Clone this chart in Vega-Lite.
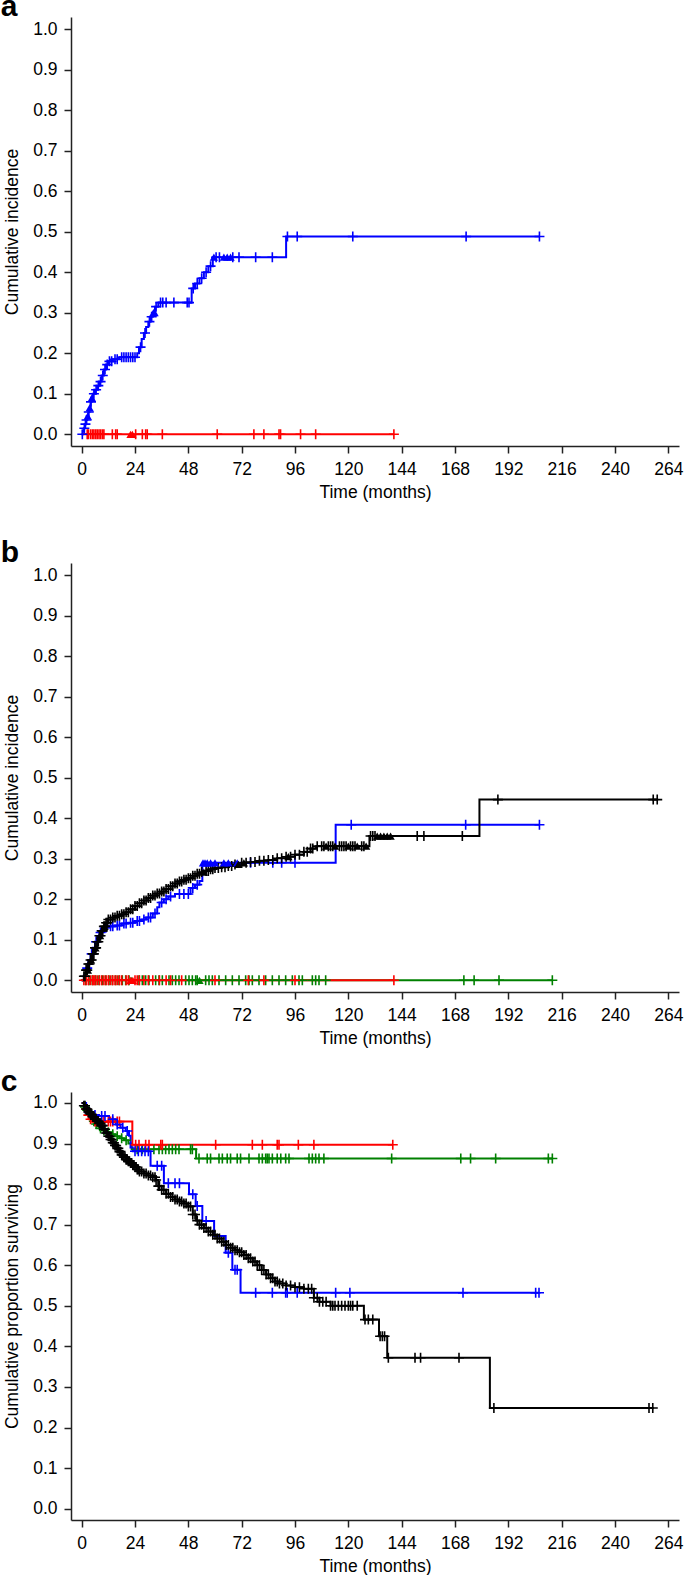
{
  "$schema": "https://vega.github.io/schema/vega-lite/v6.json",
  "padding": {"left": 0, "top": -8, "right": 5, "bottom": 0},
  "background": "white",
  "config": {
    "view": {"stroke": null},
    "font": "Liberation Sans",
    "axis": {
      "grid": false,
      "domainColor": "#222222",
      "domainWidth": 1.5,
      "tickColor": "#222222",
      "tickWidth": 1.5,
      "tickSize": 7,
      "labelFont": "Liberation Sans",
      "labelFontSize": 17.5,
      "labelColor": "#000000",
      "labelPadding": 7,
      "labelFlush": false,
      "labelOverlap": false,
      "titleFont": "Liberation Sans",
      "titleFontSize": 17.5,
      "titleFontWeight": "normal",
      "titleColor": "#000000"
    },
    "title": {
      "font": "Liberation Sans",
      "fontSize": 30,
      "fontWeight": "bold",
      "color": "#000000",
      "anchor": "start",
      "baseline": "alphabetic",
      "offset": 1,
      "dx": -3,
      "dy": 6
    }
  },
  "datasets": {
    "curves": [
      {"p":"a","g":"red","t":0,"v":0},{"p":"a","g":"red","t":140.5,"v":0},
      {"p":"a","g":"blue","t":0,"v":0},{"p":"a","g":"blue","t":0.5,"v":0.008},{"p":"a","g":"blue","t":1,"v":0.015},{"p":"a","g":"blue","t":1.5,"v":0.025},{"p":"a","g":"blue","t":2,"v":0.035},{"p":"a","g":"blue","t":2.5,"v":0.045},{"p":"a","g":"blue","t":3,"v":0.055},{"p":"a","g":"blue","t":3.5,"v":0.065},{"p":"a","g":"blue","t":4,"v":0.08},{"p":"a","g":"blue","t":4.5,"v":0.09},{"p":"a","g":"blue","t":5,"v":0.1},{"p":"a","g":"blue","t":6,"v":0.11},{"p":"a","g":"blue","t":7,"v":0.12},{"p":"a","g":"blue","t":8,"v":0.13},{"p":"a","g":"blue","t":9,"v":0.145},{"p":"a","g":"blue","t":10,"v":0.16},{"p":"a","g":"blue","t":11,"v":0.172},{"p":"a","g":"blue","t":12,"v":0.18},{"p":"a","g":"blue","t":14,"v":0.185},{"p":"a","g":"blue","t":17,"v":0.19},{"p":"a","g":"blue","t":25,"v":0.2},{"p":"a","g":"blue","t":25.8,"v":0.215},{"p":"a","g":"blue","t":27,"v":0.235},{"p":"a","g":"blue","t":28,"v":0.25},{"p":"a","g":"blue","t":29,"v":0.265},{"p":"a","g":"blue","t":30,"v":0.278},{"p":"a","g":"blue","t":31,"v":0.29},{"p":"a","g":"blue","t":32,"v":0.3},{"p":"a","g":"blue","t":33,"v":0.315},{"p":"a","g":"blue","t":34.5,"v":0.325},{"p":"a","g":"blue","t":49.5,"v":0.36},{"p":"a","g":"blue","t":51,"v":0.372},{"p":"a","g":"blue","t":53,"v":0.385},{"p":"a","g":"blue","t":55,"v":0.4},{"p":"a","g":"blue","t":57,"v":0.415},{"p":"a","g":"blue","t":59,"v":0.437},{"p":"a","g":"blue","t":92,"v":0.488},{"p":"a","g":"blue","t":206,"v":0.488},

      {"p":"b","g":"green","t":0,"v":0},{"p":"b","g":"green","t":211.8,"v":0},
      {"p":"b","g":"red","t":0,"v":0},{"p":"b","g":"red","t":140.5,"v":0},
      {"p":"b","g":"blue","t":0,"v":0},{"p":"b","g":"blue","t":1,"v":0.012},{"p":"b","g":"blue","t":2,"v":0.03},{"p":"b","g":"blue","t":3,"v":0.05},{"p":"b","g":"blue","t":4,"v":0.065},{"p":"b","g":"blue","t":5,"v":0.08},{"p":"b","g":"blue","t":6,"v":0.095},{"p":"b","g":"blue","t":7,"v":0.108},{"p":"b","g":"blue","t":8,"v":0.118},{"p":"b","g":"blue","t":9,"v":0.126},{"p":"b","g":"blue","t":10,"v":0.13},{"p":"b","g":"blue","t":12,"v":0.133},{"p":"b","g":"blue","t":15,"v":0.135},{"p":"b","g":"blue","t":18,"v":0.14},{"p":"b","g":"blue","t":21,"v":0.142},{"p":"b","g":"blue","t":24,"v":0.146},{"p":"b","g":"blue","t":27,"v":0.15},{"p":"b","g":"blue","t":29,"v":0.155},{"p":"b","g":"blue","t":32,"v":0.165},{"p":"b","g":"blue","t":34,"v":0.18},{"p":"b","g":"blue","t":35,"v":0.192},{"p":"b","g":"blue","t":37,"v":0.2},{"p":"b","g":"blue","t":39,"v":0.207},{"p":"b","g":"blue","t":42,"v":0.213},{"p":"b","g":"blue","t":49,"v":0.228},{"p":"b","g":"blue","t":51,"v":0.236},{"p":"b","g":"blue","t":53,"v":0.245},{"p":"b","g":"blue","t":54.3,"v":0.29},{"p":"b","g":"blue","t":114.3,"v":0.384},{"p":"b","g":"blue","t":206,"v":0.384},
      {"p":"b","g":"black","t":0,"v":0},{"p":"b","g":"black","t":1,"v":0.01},{"p":"b","g":"black","t":2,"v":0.025},{"p":"b","g":"black","t":3,"v":0.04},{"p":"b","g":"black","t":4,"v":0.05},{"p":"b","g":"black","t":5,"v":0.065},{"p":"b","g":"black","t":6,"v":0.08},{"p":"b","g":"black","t":7,"v":0.095},{"p":"b","g":"black","t":8,"v":0.11},{"p":"b","g":"black","t":9,"v":0.122},{"p":"b","g":"black","t":10,"v":0.133},{"p":"b","g":"black","t":11,"v":0.142},{"p":"b","g":"black","t":12,"v":0.15},{"p":"b","g":"black","t":14,"v":0.155},{"p":"b","g":"black","t":16,"v":0.159},{"p":"b","g":"black","t":18,"v":0.163},{"p":"b","g":"black","t":20,"v":0.168},{"p":"b","g":"black","t":22,"v":0.175},{"p":"b","g":"black","t":24,"v":0.183},{"p":"b","g":"black","t":26,"v":0.19},{"p":"b","g":"black","t":28,"v":0.197},{"p":"b","g":"black","t":30,"v":0.203},{"p":"b","g":"black","t":32,"v":0.209},{"p":"b","g":"black","t":34,"v":0.214},{"p":"b","g":"black","t":36,"v":0.219},{"p":"b","g":"black","t":38,"v":0.225},{"p":"b","g":"black","t":40,"v":0.232},{"p":"b","g":"black","t":42,"v":0.239},{"p":"b","g":"black","t":44,"v":0.244},{"p":"b","g":"black","t":46,"v":0.248},{"p":"b","g":"black","t":48,"v":0.252},{"p":"b","g":"black","t":50,"v":0.258},{"p":"b","g":"black","t":52,"v":0.263},{"p":"b","g":"black","t":54,"v":0.267},{"p":"b","g":"black","t":56,"v":0.27},{"p":"b","g":"black","t":58,"v":0.274},{"p":"b","g":"black","t":60,"v":0.277},{"p":"b","g":"black","t":63,"v":0.279},{"p":"b","g":"black","t":66,"v":0.282},{"p":"b","g":"black","t":69,"v":0.286},{"p":"b","g":"black","t":72,"v":0.29},{"p":"b","g":"black","t":76,"v":0.292},{"p":"b","g":"black","t":80,"v":0.295},{"p":"b","g":"black","t":84,"v":0.297},{"p":"b","g":"black","t":88,"v":0.301},{"p":"b","g":"black","t":92,"v":0.305},{"p":"b","g":"black","t":96,"v":0.31},{"p":"b","g":"black","t":100,"v":0.317},{"p":"b","g":"black","t":103,"v":0.325},{"p":"b","g":"black","t":105.5,"v":0.331},{"p":"b","g":"black","t":129.5,"v":0.356},{"p":"b","g":"black","t":179,"v":0.446},{"p":"b","g":"black","t":259,"v":0.446},

      {"p":"c","g":"green","t":0,"v":1},{"p":"c","g":"green","t":1,"v":0.99},{"p":"c","g":"green","t":2,"v":0.982},{"p":"c","g":"green","t":3,"v":0.972},{"p":"c","g":"green","t":4,"v":0.963},{"p":"c","g":"green","t":5,"v":0.955},{"p":"c","g":"green","t":6,"v":0.948},{"p":"c","g":"green","t":7,"v":0.942},{"p":"c","g":"green","t":8,"v":0.937},{"p":"c","g":"green","t":9.5,"v":0.932},{"p":"c","g":"green","t":11,"v":0.928},{"p":"c","g":"green","t":13,"v":0.923},{"p":"c","g":"green","t":15,"v":0.918},{"p":"c","g":"green","t":17,"v":0.913},{"p":"c","g":"green","t":19,"v":0.908},{"p":"c","g":"green","t":21,"v":0.9},{"p":"c","g":"green","t":22.5,"v":0.886},{"p":"c","g":"green","t":51.5,"v":0.863},{"p":"c","g":"green","t":211.8,"v":0.863},
      {"p":"c","g":"red","t":0,"v":1},{"p":"c","g":"red","t":1.5,"v":0.985},{"p":"c","g":"red","t":2.5,"v":0.97},{"p":"c","g":"red","t":3.5,"v":0.96},{"p":"c","g":"red","t":5,"v":0.954},{"p":"c","g":"red","t":22.8,"v":0.897},{"p":"c","g":"red","t":140,"v":0.897},
      {"p":"c","g":"blue","t":0,"v":1},{"p":"c","g":"blue","t":2,"v":0.985},{"p":"c","g":"blue","t":3,"v":0.976},{"p":"c","g":"blue","t":5,"v":0.97},{"p":"c","g":"blue","t":7.8,"v":0.968},{"p":"c","g":"blue","t":12.3,"v":0.96},{"p":"c","g":"blue","t":15.3,"v":0.947},{"p":"c","g":"blue","t":17.5,"v":0.939},{"p":"c","g":"blue","t":19.8,"v":0.931},{"p":"c","g":"blue","t":21.3,"v":0.919},{"p":"c","g":"blue","t":22,"v":0.89},{"p":"c","g":"blue","t":23,"v":0.881},{"p":"c","g":"blue","t":31,"v":0.845},{"p":"c","g":"blue","t":37,"v":0.802},{"p":"c","g":"blue","t":48.3,"v":0.775},{"p":"c","g":"blue","t":51.3,"v":0.746},{"p":"c","g":"blue","t":54.3,"v":0.709},{"p":"c","g":"blue","t":59.6,"v":0.672},{"p":"c","g":"blue","t":64.8,"v":0.631},{"p":"c","g":"blue","t":67.8,"v":0.589},{"p":"c","g":"blue","t":71.5,"v":0.532},{"p":"c","g":"blue","t":205.8,"v":0.532},
      {"p":"c","g":"black","t":0,"v":1},{"p":"c","g":"black","t":1,"v":0.993},{"p":"c","g":"black","t":2,"v":0.985},{"p":"c","g":"black","t":3,"v":0.978},{"p":"c","g":"black","t":4,"v":0.972},{"p":"c","g":"black","t":5,"v":0.966},{"p":"c","g":"black","t":6,"v":0.96},{"p":"c","g":"black","t":7,"v":0.955},{"p":"c","g":"black","t":8,"v":0.95},{"p":"c","g":"black","t":9,"v":0.944},{"p":"c","g":"black","t":10,"v":0.935},{"p":"c","g":"black","t":11,"v":0.926},{"p":"c","g":"black","t":12,"v":0.918},{"p":"c","g":"black","t":13,"v":0.91},{"p":"c","g":"black","t":14,"v":0.902},{"p":"c","g":"black","t":15,"v":0.895},{"p":"c","g":"black","t":16,"v":0.888},{"p":"c","g":"black","t":17,"v":0.88},{"p":"c","g":"black","t":18,"v":0.872},{"p":"c","g":"black","t":19,"v":0.866},{"p":"c","g":"black","t":20,"v":0.86},{"p":"c","g":"black","t":21,"v":0.856},{"p":"c","g":"black","t":22,"v":0.852},{"p":"c","g":"black","t":23,"v":0.847},{"p":"c","g":"black","t":24,"v":0.842},{"p":"c","g":"black","t":25,"v":0.836},{"p":"c","g":"black","t":26,"v":0.831},{"p":"c","g":"black","t":28,"v":0.826},{"p":"c","g":"black","t":30,"v":0.821},{"p":"c","g":"black","t":32,"v":0.817},{"p":"c","g":"black","t":33.5,"v":0.81},{"p":"c","g":"black","t":34.5,"v":0.795},{"p":"c","g":"black","t":36,"v":0.786},{"p":"c","g":"black","t":38,"v":0.776},{"p":"c","g":"black","t":40,"v":0.768},{"p":"c","g":"black","t":42,"v":0.762},{"p":"c","g":"black","t":44,"v":0.757},{"p":"c","g":"black","t":46,"v":0.752},{"p":"c","g":"black","t":48,"v":0.745},{"p":"c","g":"black","t":50,"v":0.725},{"p":"c","g":"black","t":51.5,"v":0.71},{"p":"c","g":"black","t":53,"v":0.7},{"p":"c","g":"black","t":55,"v":0.692},{"p":"c","g":"black","t":57,"v":0.683},{"p":"c","g":"black","t":59,"v":0.675},{"p":"c","g":"black","t":61,"v":0.666},{"p":"c","g":"black","t":63,"v":0.658},{"p":"c","g":"black","t":65,"v":0.65},{"p":"c","g":"black","t":67,"v":0.643},{"p":"c","g":"black","t":69,"v":0.637},{"p":"c","g":"black","t":71,"v":0.632},{"p":"c","g":"black","t":73,"v":0.625},{"p":"c","g":"black","t":75,"v":0.617},{"p":"c","g":"black","t":77,"v":0.609},{"p":"c","g":"black","t":79,"v":0.6},{"p":"c","g":"black","t":81,"v":0.588},{"p":"c","g":"black","t":83,"v":0.577},{"p":"c","g":"black","t":85,"v":0.568},{"p":"c","g":"black","t":87,"v":0.56},{"p":"c","g":"black","t":89,"v":0.555},{"p":"c","g":"black","t":92,"v":0.55},{"p":"c","g":"black","t":96,"v":0.546},{"p":"c","g":"black","t":100,"v":0.542},{"p":"c","g":"black","t":104.5,"v":0.52},{"p":"c","g":"black","t":107,"v":0.51},{"p":"c","g":"black","t":112,"v":0.5},{"p":"c","g":"black","t":127,"v":0.466},{"p":"c","g":"black","t":133.8,"v":0.425},{"p":"c","g":"black","t":137.5,"v":0.372},{"p":"c","g":"black","t":183.7,"v":0.248},{"p":"c","g":"black","t":257,"v":0.248}
    ],
    "marks": [
      {"p":"a","g":"red","s":"+","t":2.5,"v":0},{"p":"a","g":"red","s":"+","t":3,"v":0},{"p":"a","g":"red","s":"+","t":4,"v":0},{"p":"a","g":"red","s":"+","t":4.8,"v":0},{"p":"a","g":"red","s":"+","t":5.5,"v":0},{"p":"a","g":"red","s":"+","t":6.3,"v":0},{"p":"a","g":"red","s":"+","t":7,"v":0},{"p":"a","g":"red","s":"+","t":7.8,"v":0},{"p":"a","g":"red","s":"+","t":8.5,"v":0},{"p":"a","g":"red","s":"+","t":9.3,"v":0},{"p":"a","g":"red","s":"+","t":10,"v":0},{"p":"a","g":"red","s":"+","t":13.8,"v":0},{"p":"a","g":"red","s":"+","t":15.3,"v":0},{"p":"a","g":"red","s":"+","t":16,"v":0},{"p":"a","g":"red","s":"+","t":24.3,"v":0},{"p":"a","g":"red","s":"+","t":27.3,"v":0},{"p":"a","g":"red","s":"+","t":28.8,"v":0},{"p":"a","g":"red","s":"+","t":29.5,"v":0},{"p":"a","g":"red","s":"+","t":36.3,"v":0},{"p":"a","g":"red","s":"+","t":61,"v":0},{"p":"a","g":"red","s":"+","t":77.5,"v":0},{"p":"a","g":"red","s":"+","t":82,"v":0},{"p":"a","g":"red","s":"+","t":88.8,"v":0},{"p":"a","g":"red","s":"+","t":89.5,"v":0},{"p":"a","g":"red","s":"+","t":98.5,"v":0},{"p":"a","g":"red","s":"+","t":105.3,"v":0},{"p":"a","g":"red","s":"+","t":140.5,"v":0},
      {"p":"a","g":"red","s":"tri","t":22,"v":0},{"p":"a","g":"red","s":"tri","t":22.8,"v":0},
      {"p":"a","g":"blue","s":"+","t":0.3,"v":0},{"p":"a","g":"blue","s":"+","t":1.2,"v":0.015},{"p":"a","g":"blue","s":"+","t":1.7,"v":0.025},{"p":"a","g":"blue","s":"+","t":2.2,"v":0.035},{"p":"a","g":"blue","s":"+","t":3.2,"v":0.055},{"p":"a","g":"blue","s":"+","t":4.2,"v":0.08},{"p":"a","g":"blue","s":"+","t":5.5,"v":0.1},{"p":"a","g":"blue","s":"+","t":6.5,"v":0.11},{"p":"a","g":"blue","s":"+","t":7.5,"v":0.12},{"p":"a","g":"blue","s":"+","t":8.5,"v":0.13},{"p":"a","g":"blue","s":"+","t":9.5,"v":0.145},{"p":"a","g":"blue","s":"+","t":10.5,"v":0.16},{"p":"a","g":"blue","s":"+","t":11.5,"v":0.172},{"p":"a","g":"blue","s":"+","t":12.5,"v":0.18},{"p":"a","g":"blue","s":"+","t":13.5,"v":0.18},{"p":"a","g":"blue","s":"+","t":15,"v":0.185},{"p":"a","g":"blue","s":"+","t":16,"v":0.185},{"p":"a","g":"blue","s":"+","t":18,"v":0.19},{"p":"a","g":"blue","s":"+","t":19,"v":0.19},{"p":"a","g":"blue","s":"+","t":20,"v":0.19},{"p":"a","g":"blue","s":"+","t":21,"v":0.19},{"p":"a","g":"blue","s":"+","t":22,"v":0.19},{"p":"a","g":"blue","s":"+","t":23,"v":0.19},{"p":"a","g":"blue","s":"+","t":24,"v":0.19},{"p":"a","g":"blue","s":"+","t":26.5,"v":0.215},{"p":"a","g":"blue","s":"+","t":28.5,"v":0.25},{"p":"a","g":"blue","s":"+","t":30.5,"v":0.278},{"p":"a","g":"blue","s":"+","t":31.5,"v":0.29},{"p":"a","g":"blue","s":"+","t":33.5,"v":0.315},{"p":"a","g":"blue","s":"+","t":35.5,"v":0.325},{"p":"a","g":"blue","s":"+","t":36.5,"v":0.325},{"p":"a","g":"blue","s":"+","t":38,"v":0.325},{"p":"a","g":"blue","s":"+","t":41.5,"v":0.325},{"p":"a","g":"blue","s":"+","t":47.5,"v":0.325},{"p":"a","g":"blue","s":"+","t":48.3,"v":0.325},{"p":"a","g":"blue","s":"+","t":50.2,"v":0.36},{"p":"a","g":"blue","s":"+","t":52,"v":0.372},{"p":"a","g":"blue","s":"+","t":54,"v":0.385},{"p":"a","g":"blue","s":"+","t":56,"v":0.4},{"p":"a","g":"blue","s":"+","t":58,"v":0.415},{"p":"a","g":"blue","s":"+","t":60.5,"v":0.437},{"p":"a","g":"blue","s":"+","t":62,"v":0.437},{"p":"a","g":"blue","s":"+","t":68,"v":0.437},{"p":"a","g":"blue","s":"+","t":70.8,"v":0.437},{"p":"a","g":"blue","s":"+","t":78.3,"v":0.437},{"p":"a","g":"blue","s":"+","t":85.8,"v":0.437},{"p":"a","g":"blue","s":"+","t":92.6,"v":0.488},{"p":"a","g":"blue","s":"+","t":97,"v":0.488},{"p":"a","g":"blue","s":"+","t":122,"v":0.488},{"p":"a","g":"blue","s":"+","t":173,"v":0.488},{"p":"a","g":"blue","s":"+","t":206,"v":0.488},
      {"p":"a","g":"blue","s":"tri","t":2.7,"v":0.045},{"p":"a","g":"blue","s":"tri","t":3.6,"v":0.065},{"p":"a","g":"blue","s":"tri","t":4.6,"v":0.09},{"p":"a","g":"blue","s":"tri","t":32.3,"v":0.3},{"p":"a","g":"blue","s":"tri","t":32.8,"v":0.3},{"p":"a","g":"blue","s":"tri","t":59.5,"v":0.437},{"p":"a","g":"blue","s":"tri","t":64,"v":0.437},{"p":"a","g":"blue","s":"tri","t":65.5,"v":0.437},{"p":"a","g":"blue","s":"tri","t":67,"v":0.437},

      {"p":"b","g":"green","s":"+","t":1.8,"v":0},{"p":"b","g":"green","s":"+","t":3.3,"v":0},{"p":"b","g":"green","s":"+","t":4.8,"v":0},{"p":"b","g":"green","s":"+","t":6.3,"v":0},{"p":"b","g":"green","s":"+","t":7.8,"v":0},{"p":"b","g":"green","s":"+","t":9.3,"v":0},{"p":"b","g":"green","s":"+","t":10.8,"v":0},{"p":"b","g":"green","s":"+","t":12.3,"v":0},{"p":"b","g":"green","s":"+","t":13.8,"v":0},{"p":"b","g":"green","s":"+","t":15.3,"v":0},{"p":"b","g":"green","s":"+","t":16.8,"v":0},{"p":"b","g":"green","s":"+","t":18.3,"v":0},{"p":"b","g":"green","s":"+","t":19.8,"v":0},{"p":"b","g":"green","s":"+","t":21.3,"v":0},{"p":"b","g":"green","s":"+","t":25.8,"v":0},{"p":"b","g":"green","s":"+","t":27.3,"v":0},{"p":"b","g":"green","s":"+","t":28.8,"v":0},{"p":"b","g":"green","s":"+","t":30.3,"v":0},{"p":"b","g":"green","s":"+","t":33.3,"v":0},{"p":"b","g":"green","s":"+","t":34.8,"v":0},{"p":"b","g":"green","s":"+","t":36.3,"v":0},{"p":"b","g":"green","s":"+","t":39.3,"v":0},{"p":"b","g":"green","s":"+","t":40.8,"v":0},{"p":"b","g":"green","s":"+","t":42.3,"v":0},{"p":"b","g":"green","s":"+","t":43.8,"v":0},{"p":"b","g":"green","s":"+","t":46.8,"v":0},{"p":"b","g":"green","s":"+","t":48.3,"v":0},{"p":"b","g":"green","s":"+","t":49.8,"v":0},{"p":"b","g":"green","s":"+","t":51.3,"v":0},{"p":"b","g":"green","s":"+","t":52,"v":0},{"p":"b","g":"green","s":"+","t":55.8,"v":0},{"p":"b","g":"green","s":"+","t":57.3,"v":0},{"p":"b","g":"green","s":"+","t":58.8,"v":0},{"p":"b","g":"green","s":"+","t":61.8,"v":0},{"p":"b","g":"green","s":"+","t":64.8,"v":0},{"p":"b","g":"green","s":"+","t":67.8,"v":0},{"p":"b","g":"green","s":"+","t":70.8,"v":0},{"p":"b","g":"green","s":"+","t":73.8,"v":0},{"p":"b","g":"green","s":"+","t":75.3,"v":0},{"p":"b","g":"green","s":"+","t":76.8,"v":0},{"p":"b","g":"green","s":"+","t":79.8,"v":0},{"p":"b","g":"green","s":"+","t":82.8,"v":0},{"p":"b","g":"green","s":"+","t":85.8,"v":0},{"p":"b","g":"green","s":"+","t":88.8,"v":0},{"p":"b","g":"green","s":"+","t":91.8,"v":0},{"p":"b","g":"green","s":"+","t":94.8,"v":0},{"p":"b","g":"green","s":"+","t":97.8,"v":0},{"p":"b","g":"green","s":"+","t":99.3,"v":0},{"p":"b","g":"green","s":"+","t":103.8,"v":0},{"p":"b","g":"green","s":"+","t":105.3,"v":0},{"p":"b","g":"green","s":"+","t":106.8,"v":0},{"p":"b","g":"green","s":"+","t":109.8,"v":0},{"p":"b","g":"green","s":"+","t":172,"v":0},{"p":"b","g":"green","s":"+","t":176.6,"v":0},{"p":"b","g":"green","s":"+","t":187.8,"v":0},{"p":"b","g":"green","s":"+","t":211.8,"v":0},
      {"p":"b","g":"green","s":"tri","t":22.3,"v":0},{"p":"b","g":"green","s":"tri","t":53,"v":0},
      {"p":"b","g":"red","s":"+","t":1,"v":0},{"p":"b","g":"red","s":"+","t":2,"v":0},{"p":"b","g":"red","s":"+","t":3,"v":0},{"p":"b","g":"red","s":"+","t":4,"v":0},{"p":"b","g":"red","s":"+","t":5,"v":0},{"p":"b","g":"red","s":"+","t":5.5,"v":0},{"p":"b","g":"red","s":"+","t":6,"v":0},{"p":"b","g":"red","s":"+","t":7,"v":0},{"p":"b","g":"red","s":"+","t":8,"v":0},{"p":"b","g":"red","s":"+","t":9,"v":0},{"p":"b","g":"red","s":"+","t":10,"v":0},{"p":"b","g":"red","s":"+","t":11,"v":0},{"p":"b","g":"red","s":"+","t":12,"v":0},{"p":"b","g":"red","s":"+","t":13,"v":0},{"p":"b","g":"red","s":"+","t":14,"v":0},{"p":"b","g":"red","s":"+","t":15,"v":0},{"p":"b","g":"red","s":"+","t":16,"v":0},{"p":"b","g":"red","s":"+","t":17,"v":0},{"p":"b","g":"red","s":"+","t":18,"v":0},{"p":"b","g":"red","s":"+","t":20,"v":0},{"p":"b","g":"red","s":"+","t":21,"v":0},{"p":"b","g":"red","s":"+","t":24,"v":0},{"p":"b","g":"red","s":"+","t":25,"v":0},{"p":"b","g":"red","s":"+","t":26,"v":0},{"p":"b","g":"red","s":"+","t":28,"v":0},{"p":"b","g":"red","s":"+","t":30,"v":0},{"p":"b","g":"red","s":"+","t":32,"v":0},{"p":"b","g":"red","s":"+","t":35,"v":0},{"p":"b","g":"red","s":"+","t":38,"v":0},{"p":"b","g":"red","s":"+","t":40,"v":0},{"p":"b","g":"red","s":"+","t":45,"v":0},{"p":"b","g":"red","s":"+","t":60,"v":0},{"p":"b","g":"red","s":"+","t":75,"v":0},{"p":"b","g":"red","s":"+","t":82,"v":0},{"p":"b","g":"red","s":"+","t":96,"v":0},{"p":"b","g":"red","s":"+","t":140.5,"v":0},
      {"p":"b","g":"red","s":"tri","t":22,"v":0},{"p":"b","g":"red","s":"tri","t":23,"v":0},
      {"p":"b","g":"blue","s":"+","t":2.5,"v":0.03},{"p":"b","g":"blue","s":"+","t":4.5,"v":0.065},{"p":"b","g":"blue","s":"+","t":6.5,"v":0.095},{"p":"b","g":"blue","s":"+","t":8.5,"v":0.118},{"p":"b","g":"blue","s":"+","t":11,"v":0.13},{"p":"b","g":"blue","s":"+","t":13,"v":0.133},{"p":"b","g":"blue","s":"+","t":14,"v":0.133},{"p":"b","g":"blue","s":"+","t":16,"v":0.135},{"p":"b","g":"blue","s":"+","t":17,"v":0.135},{"p":"b","g":"blue","s":"+","t":19,"v":0.14},{"p":"b","g":"blue","s":"+","t":20,"v":0.14},{"p":"b","g":"blue","s":"+","t":22,"v":0.142},{"p":"b","g":"blue","s":"+","t":23,"v":0.142},{"p":"b","g":"blue","s":"+","t":25,"v":0.146},{"p":"b","g":"blue","s":"+","t":26,"v":0.146},{"p":"b","g":"blue","s":"+","t":28,"v":0.15},{"p":"b","g":"blue","s":"+","t":30,"v":0.155},{"p":"b","g":"blue","s":"+","t":31,"v":0.155},{"p":"b","g":"blue","s":"+","t":33,"v":0.165},{"p":"b","g":"blue","s":"+","t":36,"v":0.192},{"p":"b","g":"blue","s":"+","t":38,"v":0.2},{"p":"b","g":"blue","s":"+","t":40,"v":0.207},{"p":"b","g":"blue","s":"+","t":44,"v":0.213},{"p":"b","g":"blue","s":"+","t":46,"v":0.213},{"p":"b","g":"blue","s":"+","t":48,"v":0.213},{"p":"b","g":"blue","s":"+","t":50,"v":0.228},{"p":"b","g":"blue","s":"+","t":52,"v":0.236},{"p":"b","g":"blue","s":"+","t":76,"v":0.29},{"p":"b","g":"blue","s":"+","t":86,"v":0.29},{"p":"b","g":"blue","s":"+","t":90,"v":0.29},{"p":"b","g":"blue","s":"+","t":96,"v":0.29},{"p":"b","g":"blue","s":"+","t":121.3,"v":0.384},{"p":"b","g":"blue","s":"+","t":172.8,"v":0.384},{"p":"b","g":"blue","s":"+","t":206,"v":0.384},
      {"p":"b","g":"blue","s":"tri","t":54.6,"v":0.29},{"p":"b","g":"blue","s":"tri","t":55.5,"v":0.29},{"p":"b","g":"blue","s":"tri","t":56.5,"v":0.29},{"p":"b","g":"blue","s":"tri","t":58,"v":0.29},{"p":"b","g":"blue","s":"tri","t":60,"v":0.29},{"p":"b","g":"blue","s":"tri","t":64,"v":0.29},{"p":"b","g":"blue","s":"tri","t":66,"v":0.29},{"p":"b","g":"blue","s":"tri","t":70,"v":0.29},
      {"p":"b","g":"black","s":"+","t":1,"v":0.01},{"p":"b","g":"black","s":"+","t":1.5,"v":0.01},{"p":"b","g":"black","s":"+","t":2,"v":0.025},{"p":"b","g":"black","s":"+","t":2.5,"v":0.025},{"p":"b","g":"black","s":"+","t":3,"v":0.04},{"p":"b","g":"black","s":"+","t":3.5,"v":0.04},{"p":"b","g":"black","s":"+","t":4,"v":0.05},{"p":"b","g":"black","s":"+","t":4.5,"v":0.05},{"p":"b","g":"black","s":"+","t":5,"v":0.065},{"p":"b","g":"black","s":"+","t":5.5,"v":0.065},{"p":"b","g":"black","s":"+","t":6,"v":0.08},{"p":"b","g":"black","s":"+","t":6.5,"v":0.08},{"p":"b","g":"black","s":"+","t":7,"v":0.095},{"p":"b","g":"black","s":"+","t":7.5,"v":0.095},{"p":"b","g":"black","s":"+","t":8,"v":0.11},{"p":"b","g":"black","s":"+","t":8.5,"v":0.11},{"p":"b","g":"black","s":"+","t":9,"v":0.122},{"p":"b","g":"black","s":"+","t":9.5,"v":0.122},{"p":"b","g":"black","s":"+","t":10,"v":0.133},{"p":"b","g":"black","s":"+","t":10.5,"v":0.133},{"p":"b","g":"black","s":"+","t":11,"v":0.142},{"p":"b","g":"black","s":"+","t":11.5,"v":0.142},{"p":"b","g":"black","s":"+","t":12,"v":0.15},{"p":"b","g":"black","s":"+","t":13,"v":0.15},{"p":"b","g":"black","s":"+","t":14,"v":0.155},{"p":"b","g":"black","s":"+","t":15,"v":0.155},{"p":"b","g":"black","s":"+","t":16,"v":0.159},{"p":"b","g":"black","s":"+","t":17,"v":0.159},{"p":"b","g":"black","s":"+","t":18,"v":0.163},{"p":"b","g":"black","s":"+","t":19,"v":0.163},{"p":"b","g":"black","s":"+","t":20,"v":0.168},{"p":"b","g":"black","s":"+","t":21,"v":0.168},{"p":"b","g":"black","s":"+","t":22,"v":0.175},{"p":"b","g":"black","s":"+","t":23,"v":0.175},{"p":"b","g":"black","s":"+","t":24,"v":0.183},{"p":"b","g":"black","s":"+","t":25,"v":0.183},{"p":"b","g":"black","s":"+","t":26,"v":0.19},{"p":"b","g":"black","s":"+","t":27,"v":0.19},{"p":"b","g":"black","s":"+","t":28,"v":0.197},{"p":"b","g":"black","s":"+","t":29,"v":0.197},{"p":"b","g":"black","s":"+","t":30,"v":0.203},{"p":"b","g":"black","s":"+","t":31,"v":0.203},{"p":"b","g":"black","s":"+","t":32,"v":0.209},{"p":"b","g":"black","s":"+","t":33,"v":0.209},{"p":"b","g":"black","s":"+","t":34,"v":0.214},{"p":"b","g":"black","s":"+","t":35,"v":0.214},{"p":"b","g":"black","s":"+","t":36,"v":0.219},{"p":"b","g":"black","s":"+","t":37,"v":0.219},{"p":"b","g":"black","s":"+","t":38,"v":0.225},{"p":"b","g":"black","s":"+","t":39,"v":0.225},{"p":"b","g":"black","s":"+","t":40,"v":0.232},{"p":"b","g":"black","s":"+","t":41,"v":0.232},{"p":"b","g":"black","s":"+","t":42,"v":0.239},{"p":"b","g":"black","s":"+","t":43,"v":0.239},{"p":"b","g":"black","s":"+","t":44,"v":0.244},{"p":"b","g":"black","s":"+","t":45,"v":0.244},{"p":"b","g":"black","s":"+","t":46,"v":0.248},{"p":"b","g":"black","s":"+","t":47,"v":0.248},{"p":"b","g":"black","s":"+","t":48,"v":0.252},{"p":"b","g":"black","s":"+","t":49,"v":0.252},{"p":"b","g":"black","s":"+","t":50,"v":0.258},{"p":"b","g":"black","s":"+","t":51,"v":0.258},{"p":"b","g":"black","s":"+","t":52,"v":0.263},{"p":"b","g":"black","s":"+","t":53,"v":0.263},{"p":"b","g":"black","s":"+","t":54,"v":0.267},{"p":"b","g":"black","s":"+","t":56,"v":0.27},{"p":"b","g":"black","s":"+","t":57,"v":0.27},{"p":"b","g":"black","s":"+","t":58,"v":0.274},{"p":"b","g":"black","s":"+","t":59,"v":0.274},{"p":"b","g":"black","s":"+","t":60,"v":0.277},{"p":"b","g":"black","s":"+","t":61.5,"v":0.277},{"p":"b","g":"black","s":"+","t":63,"v":0.279},{"p":"b","g":"black","s":"+","t":64.5,"v":0.279},{"p":"b","g":"black","s":"+","t":66,"v":0.282},{"p":"b","g":"black","s":"+","t":67.5,"v":0.282},{"p":"b","g":"black","s":"+","t":69,"v":0.286},{"p":"b","g":"black","s":"+","t":72,"v":0.29},{"p":"b","g":"black","s":"+","t":74,"v":0.29},{"p":"b","g":"black","s":"+","t":76,"v":0.292},{"p":"b","g":"black","s":"+","t":78,"v":0.292},{"p":"b","g":"black","s":"+","t":80,"v":0.295},{"p":"b","g":"black","s":"+","t":82,"v":0.295},{"p":"b","g":"black","s":"+","t":84,"v":0.297},{"p":"b","g":"black","s":"+","t":86,"v":0.297},{"p":"b","g":"black","s":"+","t":88,"v":0.301},{"p":"b","g":"black","s":"+","t":90,"v":0.301},{"p":"b","g":"black","s":"+","t":92,"v":0.305},{"p":"b","g":"black","s":"+","t":94,"v":0.305},{"p":"b","g":"black","s":"+","t":96,"v":0.31},{"p":"b","g":"black","s":"+","t":98,"v":0.31},{"p":"b","g":"black","s":"+","t":100,"v":0.317},{"p":"b","g":"black","s":"+","t":101.5,"v":0.317},{"p":"b","g":"black","s":"+","t":103,"v":0.325},{"p":"b","g":"black","s":"+","t":104,"v":0.325},{"p":"b","g":"black","s":"+","t":106,"v":0.331},{"p":"b","g":"black","s":"+","t":108,"v":0.331},{"p":"b","g":"black","s":"+","t":109,"v":0.331},{"p":"b","g":"black","s":"+","t":111,"v":0.331},{"p":"b","g":"black","s":"+","t":112,"v":0.331},{"p":"b","g":"black","s":"+","t":113,"v":0.331},{"p":"b","g":"black","s":"+","t":116,"v":0.331},{"p":"b","g":"black","s":"+","t":117,"v":0.331},{"p":"b","g":"black","s":"+","t":118,"v":0.331},{"p":"b","g":"black","s":"+","t":119,"v":0.331},{"p":"b","g":"black","s":"+","t":121,"v":0.331},{"p":"b","g":"black","s":"+","t":122,"v":0.331},{"p":"b","g":"black","s":"+","t":123,"v":0.331},{"p":"b","g":"black","s":"+","t":126,"v":0.331},{"p":"b","g":"black","s":"+","t":127,"v":0.331},{"p":"b","g":"black","s":"+","t":130,"v":0.356},{"p":"b","g":"black","s":"+","t":131,"v":0.356},{"p":"b","g":"black","s":"+","t":132,"v":0.356},{"p":"b","g":"black","s":"+","t":151,"v":0.356},{"p":"b","g":"black","s":"+","t":154,"v":0.356},{"p":"b","g":"black","s":"+","t":171.3,"v":0.356},{"p":"b","g":"black","s":"+","t":187.3,"v":0.446},{"p":"b","g":"black","s":"+","t":257.2,"v":0.446},{"p":"b","g":"black","s":"+","t":259,"v":0.446},
      {"p":"b","g":"black","s":"tri","t":2.8,"v":0.025},{"p":"b","g":"black","s":"tri","t":4.2,"v":0.05},{"p":"b","g":"black","s":"tri","t":6.2,"v":0.08},{"p":"b","g":"black","s":"tri","t":8.3,"v":0.11},{"p":"b","g":"black","s":"tri","t":10.3,"v":0.133},{"p":"b","g":"black","s":"tri","t":55,"v":0.267},{"p":"b","g":"black","s":"tri","t":70.5,"v":0.286},{"p":"b","g":"black","s":"tri","t":73,"v":0.29},{"p":"b","g":"black","s":"tri","t":93,"v":0.305},{"p":"b","g":"black","s":"tri","t":110,"v":0.331},{"p":"b","g":"black","s":"tri","t":114,"v":0.331},{"p":"b","g":"black","s":"tri","t":120,"v":0.331},{"p":"b","g":"black","s":"tri","t":124,"v":0.331},{"p":"b","g":"black","s":"tri","t":128,"v":0.331},{"p":"b","g":"black","s":"tri","t":133,"v":0.356},{"p":"b","g":"black","s":"tri","t":134.5,"v":0.356},{"p":"b","g":"black","s":"tri","t":136,"v":0.356},{"p":"b","g":"black","s":"tri","t":137.5,"v":0.356},{"p":"b","g":"black","s":"tri","t":139,"v":0.356},

      {"p":"c","g":"green","s":"+","t":1.5,"v":0.99},{"p":"c","g":"green","s":"+","t":2.5,"v":0.982},{"p":"c","g":"green","s":"+","t":3.5,"v":0.972},{"p":"c","g":"green","s":"+","t":5.5,"v":0.955},{"p":"c","g":"green","s":"+","t":6.5,"v":0.948},{"p":"c","g":"green","s":"+","t":8.5,"v":0.937},{"p":"c","g":"green","s":"+","t":10,"v":0.932},{"p":"c","g":"green","s":"+","t":12,"v":0.928},{"p":"c","g":"green","s":"+","t":14,"v":0.923},{"p":"c","g":"green","s":"+","t":16,"v":0.918},{"p":"c","g":"green","s":"+","t":18,"v":0.913},{"p":"c","g":"green","s":"+","t":20,"v":0.908},{"p":"c","g":"green","s":"+","t":25,"v":0.886},{"p":"c","g":"green","s":"+","t":27.3,"v":0.886},{"p":"c","g":"green","s":"+","t":32.5,"v":0.886},{"p":"c","g":"green","s":"+","t":34.8,"v":0.886},{"p":"c","g":"green","s":"+","t":36.3,"v":0.886},{"p":"c","g":"green","s":"+","t":37.8,"v":0.886},{"p":"c","g":"green","s":"+","t":39.3,"v":0.886},{"p":"c","g":"green","s":"+","t":40.8,"v":0.886},{"p":"c","g":"green","s":"+","t":42.3,"v":0.886},{"p":"c","g":"green","s":"+","t":43.8,"v":0.886},{"p":"c","g":"green","s":"+","t":49,"v":0.886},{"p":"c","g":"green","s":"+","t":49.8,"v":0.886},{"p":"c","g":"green","s":"+","t":52.8,"v":0.863},{"p":"c","g":"green","s":"+","t":56.5,"v":0.863},{"p":"c","g":"green","s":"+","t":58,"v":0.863},{"p":"c","g":"green","s":"+","t":61.8,"v":0.863},{"p":"c","g":"green","s":"+","t":63.3,"v":0.863},{"p":"c","g":"green","s":"+","t":65.5,"v":0.863},{"p":"c","g":"green","s":"+","t":67,"v":0.863},{"p":"c","g":"green","s":"+","t":70,"v":0.863},{"p":"c","g":"green","s":"+","t":71.5,"v":0.863},{"p":"c","g":"green","s":"+","t":75.3,"v":0.863},{"p":"c","g":"green","s":"+","t":79.8,"v":0.863},{"p":"c","g":"green","s":"+","t":81.3,"v":0.863},{"p":"c","g":"green","s":"+","t":82.8,"v":0.863},{"p":"c","g":"green","s":"+","t":83.5,"v":0.863},{"p":"c","g":"green","s":"+","t":84.3,"v":0.863},{"p":"c","g":"green","s":"+","t":85.8,"v":0.863},{"p":"c","g":"green","s":"+","t":88,"v":0.863},{"p":"c","g":"green","s":"+","t":89.6,"v":0.863},{"p":"c","g":"green","s":"+","t":91.8,"v":0.863},{"p":"c","g":"green","s":"+","t":93.3,"v":0.863},{"p":"c","g":"green","s":"+","t":102.3,"v":0.863},{"p":"c","g":"green","s":"+","t":103.8,"v":0.863},{"p":"c","g":"green","s":"+","t":105.3,"v":0.863},{"p":"c","g":"green","s":"+","t":106.8,"v":0.863},{"p":"c","g":"green","s":"+","t":109,"v":0.863},{"p":"c","g":"green","s":"+","t":139.5,"v":0.863},{"p":"c","g":"green","s":"+","t":170.6,"v":0.863},{"p":"c","g":"green","s":"+","t":175,"v":0.863},{"p":"c","g":"green","s":"+","t":186.3,"v":0.863},{"p":"c","g":"green","s":"+","t":210,"v":0.863},{"p":"c","g":"green","s":"+","t":211.8,"v":0.863},
      {"p":"c","g":"red","s":"+","t":2,"v":0.985},{"p":"c","g":"red","s":"+","t":3,"v":0.97},{"p":"c","g":"red","s":"+","t":4,"v":0.96},{"p":"c","g":"red","s":"+","t":6,"v":0.954},{"p":"c","g":"red","s":"+","t":7,"v":0.954},{"p":"c","g":"red","s":"+","t":9,"v":0.954},{"p":"c","g":"red","s":"+","t":10,"v":0.954},{"p":"c","g":"red","s":"+","t":12,"v":0.954},{"p":"c","g":"red","s":"+","t":13,"v":0.954},{"p":"c","g":"red","s":"+","t":14,"v":0.954},{"p":"c","g":"red","s":"+","t":16,"v":0.954},{"p":"c","g":"red","s":"+","t":17,"v":0.954},{"p":"c","g":"red","s":"+","t":24.3,"v":0.897},{"p":"c","g":"red","s":"+","t":25.8,"v":0.897},{"p":"c","g":"red","s":"+","t":28.8,"v":0.897},{"p":"c","g":"red","s":"+","t":30.3,"v":0.897},{"p":"c","g":"red","s":"+","t":35.6,"v":0.897},{"p":"c","g":"red","s":"+","t":36.3,"v":0.897},{"p":"c","g":"red","s":"+","t":60.3,"v":0.897},{"p":"c","g":"red","s":"+","t":76.8,"v":0.897},{"p":"c","g":"red","s":"+","t":81.3,"v":0.897},{"p":"c","g":"red","s":"+","t":88,"v":0.897},{"p":"c","g":"red","s":"+","t":88.8,"v":0.897},{"p":"c","g":"red","s":"+","t":97.5,"v":0.897},{"p":"c","g":"red","s":"+","t":104.5,"v":0.897},{"p":"c","g":"red","s":"+","t":140,"v":0.897},
      {"p":"c","g":"blue","s":"+","t":3.5,"v":0.976},{"p":"c","g":"blue","s":"+","t":6,"v":0.97},{"p":"c","g":"blue","s":"+","t":9,"v":0.968},{"p":"c","g":"blue","s":"+","t":10.5,"v":0.968},{"p":"c","g":"blue","s":"+","t":14,"v":0.96},{"p":"c","g":"blue","s":"+","t":16,"v":0.947},{"p":"c","g":"blue","s":"+","t":18.5,"v":0.939},{"p":"c","g":"blue","s":"+","t":20.5,"v":0.931},{"p":"c","g":"blue","s":"+","t":24,"v":0.881},{"p":"c","g":"blue","s":"+","t":25.5,"v":0.881},{"p":"c","g":"blue","s":"+","t":27,"v":0.881},{"p":"c","g":"blue","s":"+","t":28.5,"v":0.881},{"p":"c","g":"blue","s":"+","t":30,"v":0.881},{"p":"c","g":"blue","s":"+","t":34,"v":0.845},{"p":"c","g":"blue","s":"+","t":36,"v":0.845},{"p":"c","g":"blue","s":"+","t":39,"v":0.802},{"p":"c","g":"blue","s":"+","t":42,"v":0.802},{"p":"c","g":"blue","s":"+","t":44,"v":0.802},{"p":"c","g":"blue","s":"+","t":50,"v":0.775},{"p":"c","g":"blue","s":"+","t":52,"v":0.746},{"p":"c","g":"blue","s":"+","t":56,"v":0.709},{"p":"c","g":"blue","s":"+","t":66,"v":0.631},{"p":"c","g":"blue","s":"+","t":69,"v":0.589},{"p":"c","g":"blue","s":"+","t":70,"v":0.589},{"p":"c","g":"blue","s":"+","t":78.3,"v":0.532},{"p":"c","g":"blue","s":"+","t":85.8,"v":0.532},{"p":"c","g":"blue","s":"+","t":91.8,"v":0.532},{"p":"c","g":"blue","s":"+","t":92.5,"v":0.532},{"p":"c","g":"blue","s":"+","t":97,"v":0.532},{"p":"c","g":"blue","s":"+","t":114.3,"v":0.532},{"p":"c","g":"blue","s":"+","t":120.7,"v":0.532},{"p":"c","g":"blue","s":"+","t":171.6,"v":0.532},{"p":"c","g":"blue","s":"+","t":204.3,"v":0.532},{"p":"c","g":"blue","s":"+","t":205.8,"v":0.532},
      {"p":"c","g":"black","s":"+","t":1,"v":0.993},{"p":"c","g":"black","s":"+","t":1.5,"v":0.993},{"p":"c","g":"black","s":"+","t":2,"v":0.985},{"p":"c","g":"black","s":"+","t":2.5,"v":0.985},{"p":"c","g":"black","s":"+","t":3,"v":0.978},{"p":"c","g":"black","s":"+","t":3.5,"v":0.978},{"p":"c","g":"black","s":"+","t":4,"v":0.972},{"p":"c","g":"black","s":"+","t":4.5,"v":0.972},{"p":"c","g":"black","s":"+","t":5,"v":0.966},{"p":"c","g":"black","s":"+","t":5.5,"v":0.966},{"p":"c","g":"black","s":"+","t":6,"v":0.96},{"p":"c","g":"black","s":"+","t":6.5,"v":0.96},{"p":"c","g":"black","s":"+","t":7,"v":0.955},{"p":"c","g":"black","s":"+","t":7.5,"v":0.955},{"p":"c","g":"black","s":"+","t":8,"v":0.95},{"p":"c","g":"black","s":"+","t":8.5,"v":0.95},{"p":"c","g":"black","s":"+","t":9,"v":0.944},{"p":"c","g":"black","s":"+","t":9.5,"v":0.944},{"p":"c","g":"black","s":"+","t":10,"v":0.935},{"p":"c","g":"black","s":"+","t":10.5,"v":0.935},{"p":"c","g":"black","s":"+","t":11,"v":0.926},{"p":"c","g":"black","s":"+","t":11.5,"v":0.926},{"p":"c","g":"black","s":"+","t":12,"v":0.918},{"p":"c","g":"black","s":"+","t":12.5,"v":0.918},{"p":"c","g":"black","s":"+","t":13,"v":0.91},{"p":"c","g":"black","s":"+","t":13.5,"v":0.91},{"p":"c","g":"black","s":"+","t":14,"v":0.902},{"p":"c","g":"black","s":"+","t":14.5,"v":0.902},{"p":"c","g":"black","s":"+","t":15,"v":0.895},{"p":"c","g":"black","s":"+","t":15.5,"v":0.895},{"p":"c","g":"black","s":"+","t":16,"v":0.888},{"p":"c","g":"black","s":"+","t":16.5,"v":0.888},{"p":"c","g":"black","s":"+","t":17,"v":0.88},{"p":"c","g":"black","s":"+","t":17.5,"v":0.88},{"p":"c","g":"black","s":"+","t":18,"v":0.872},{"p":"c","g":"black","s":"+","t":18.5,"v":0.872},{"p":"c","g":"black","s":"+","t":19,"v":0.866},{"p":"c","g":"black","s":"+","t":19.5,"v":0.866},{"p":"c","g":"black","s":"+","t":20,"v":0.86},{"p":"c","g":"black","s":"+","t":20.5,"v":0.86},{"p":"c","g":"black","s":"+","t":21,"v":0.856},{"p":"c","g":"black","s":"+","t":21.5,"v":0.856},{"p":"c","g":"black","s":"+","t":22,"v":0.852},{"p":"c","g":"black","s":"+","t":22.5,"v":0.852},{"p":"c","g":"black","s":"+","t":23,"v":0.847},{"p":"c","g":"black","s":"+","t":23.5,"v":0.847},{"p":"c","g":"black","s":"+","t":24,"v":0.842},{"p":"c","g":"black","s":"+","t":24.5,"v":0.842},{"p":"c","g":"black","s":"+","t":25,"v":0.836},{"p":"c","g":"black","s":"+","t":25.5,"v":0.836},{"p":"c","g":"black","s":"+","t":26,"v":0.831},{"p":"c","g":"black","s":"+","t":27,"v":0.831},{"p":"c","g":"black","s":"+","t":28,"v":0.826},{"p":"c","g":"black","s":"+","t":29,"v":0.826},{"p":"c","g":"black","s":"+","t":30,"v":0.821},{"p":"c","g":"black","s":"+","t":31,"v":0.821},{"p":"c","g":"black","s":"+","t":32,"v":0.817},{"p":"c","g":"black","s":"+","t":33,"v":0.817},{"p":"c","g":"black","s":"+","t":33.5,"v":0.81},{"p":"c","g":"black","s":"+","t":34.5,"v":0.795},{"p":"c","g":"black","s":"+","t":35,"v":0.795},{"p":"c","g":"black","s":"+","t":36,"v":0.786},{"p":"c","g":"black","s":"+","t":37,"v":0.786},{"p":"c","g":"black","s":"+","t":38,"v":0.776},{"p":"c","g":"black","s":"+","t":39,"v":0.776},{"p":"c","g":"black","s":"+","t":40,"v":0.768},{"p":"c","g":"black","s":"+","t":41,"v":0.768},{"p":"c","g":"black","s":"+","t":42,"v":0.762},{"p":"c","g":"black","s":"+","t":43,"v":0.762},{"p":"c","g":"black","s":"+","t":44,"v":0.757},{"p":"c","g":"black","s":"+","t":45,"v":0.757},{"p":"c","g":"black","s":"+","t":46,"v":0.752},{"p":"c","g":"black","s":"+","t":47,"v":0.752},{"p":"c","g":"black","s":"+","t":48,"v":0.745},{"p":"c","g":"black","s":"+","t":49,"v":0.745},{"p":"c","g":"black","s":"+","t":50,"v":0.725},{"p":"c","g":"black","s":"+","t":51,"v":0.725},{"p":"c","g":"black","s":"+","t":52,"v":0.71},{"p":"c","g":"black","s":"+","t":53,"v":0.7},{"p":"c","g":"black","s":"+","t":54,"v":0.7},{"p":"c","g":"black","s":"+","t":55,"v":0.692},{"p":"c","g":"black","s":"+","t":56,"v":0.692},{"p":"c","g":"black","s":"+","t":57,"v":0.683},{"p":"c","g":"black","s":"+","t":58,"v":0.683},{"p":"c","g":"black","s":"+","t":59,"v":0.675},{"p":"c","g":"black","s":"+","t":60,"v":0.675},{"p":"c","g":"black","s":"+","t":61,"v":0.666},{"p":"c","g":"black","s":"+","t":62,"v":0.666},{"p":"c","g":"black","s":"+","t":63,"v":0.658},{"p":"c","g":"black","s":"+","t":64,"v":0.658},{"p":"c","g":"black","s":"+","t":65,"v":0.65},{"p":"c","g":"black","s":"+","t":66,"v":0.65},{"p":"c","g":"black","s":"+","t":67,"v":0.643},{"p":"c","g":"black","s":"+","t":68,"v":0.643},{"p":"c","g":"black","s":"+","t":69,"v":0.637},{"p":"c","g":"black","s":"+","t":70,"v":0.637},{"p":"c","g":"black","s":"+","t":71,"v":0.632},{"p":"c","g":"black","s":"+","t":72,"v":0.632},{"p":"c","g":"black","s":"+","t":73,"v":0.625},{"p":"c","g":"black","s":"+","t":74,"v":0.625},{"p":"c","g":"black","s":"+","t":75,"v":0.617},{"p":"c","g":"black","s":"+","t":76,"v":0.617},{"p":"c","g":"black","s":"+","t":77,"v":0.609},{"p":"c","g":"black","s":"+","t":78,"v":0.609},{"p":"c","g":"black","s":"+","t":79,"v":0.6},{"p":"c","g":"black","s":"+","t":80,"v":0.6},{"p":"c","g":"black","s":"+","t":81,"v":0.588},{"p":"c","g":"black","s":"+","t":82,"v":0.588},{"p":"c","g":"black","s":"+","t":83,"v":0.577},{"p":"c","g":"black","s":"+","t":84,"v":0.577},{"p":"c","g":"black","s":"+","t":85,"v":0.568},{"p":"c","g":"black","s":"+","t":86,"v":0.568},{"p":"c","g":"black","s":"+","t":87,"v":0.56},{"p":"c","g":"black","s":"+","t":88,"v":0.56},{"p":"c","g":"black","s":"+","t":89,"v":0.555},{"p":"c","g":"black","s":"+","t":90.5,"v":0.555},{"p":"c","g":"black","s":"+","t":92,"v":0.55},{"p":"c","g":"black","s":"+","t":94,"v":0.55},{"p":"c","g":"black","s":"+","t":96,"v":0.546},{"p":"c","g":"black","s":"+","t":98,"v":0.546},{"p":"c","g":"black","s":"+","t":100,"v":0.542},{"p":"c","g":"black","s":"+","t":102,"v":0.542},{"p":"c","g":"black","s":"+","t":103.5,"v":0.542},{"p":"c","g":"black","s":"+","t":104.5,"v":0.52},{"p":"c","g":"black","s":"+","t":106,"v":0.52},{"p":"c","g":"black","s":"+","t":107,"v":0.51},{"p":"c","g":"black","s":"+","t":108.5,"v":0.51},{"p":"c","g":"black","s":"+","t":110,"v":0.51},{"p":"c","g":"black","s":"+","t":112,"v":0.5},{"p":"c","g":"black","s":"+","t":113,"v":0.5},{"p":"c","g":"black","s":"+","t":114,"v":0.5},{"p":"c","g":"black","s":"+","t":115.5,"v":0.5},{"p":"c","g":"black","s":"+","t":117,"v":0.5},{"p":"c","g":"black","s":"+","t":118.5,"v":0.5},{"p":"c","g":"black","s":"+","t":120,"v":0.5},{"p":"c","g":"black","s":"+","t":121,"v":0.5},{"p":"c","g":"black","s":"+","t":122,"v":0.5},{"p":"c","g":"black","s":"+","t":124,"v":0.5},{"p":"c","g":"black","s":"+","t":127.5,"v":0.466},{"p":"c","g":"black","s":"+","t":129,"v":0.466},{"p":"c","g":"black","s":"+","t":131,"v":0.466},{"p":"c","g":"black","s":"+","t":134.3,"v":0.425},{"p":"c","g":"black","s":"+","t":135.3,"v":0.425},{"p":"c","g":"black","s":"+","t":136.3,"v":0.425},{"p":"c","g":"black","s":"+","t":138,"v":0.372},{"p":"c","g":"black","s":"+","t":150,"v":0.372},{"p":"c","g":"black","s":"+","t":152.5,"v":0.372},{"p":"c","g":"black","s":"+","t":169.8,"v":0.372},{"p":"c","g":"black","s":"+","t":185.5,"v":0.248},{"p":"c","g":"black","s":"+","t":255.3,"v":0.248},{"p":"c","g":"black","s":"+","t":257,"v":0.248}
    ]
  },
  "spacing": 37,
  "vconcat": [
    {
      "title": {"text": "a"},
      "width": 608,
      "height": 429,
      "encoding": {
        "x": {"field": "t", "type": "quantitative", "scale": {"domain": [-4.8, 268.8], "nice": false, "zero": false}, "axis": {"values": [0,24,48,72,96,120,144,168,192,216,240,264], "title": "Time (months)", "titlePadding": 6}},
        "y": {"field": "v", "type": "quantitative", "scale": {"domain": [-0.029, 1.03], "nice": false, "zero": false}, "axis": {"values": [0,0.1,0.2,0.3,0.4,0.5,0.6,0.7,0.8,0.9,1], "format": ".1f", "title": "Cumulative incidence", "titlePadding": 11}},
        "color": {"field": "g", "type": "nominal", "scale": {"domain": ["green","red","blue","black"], "range": ["#008000","#FF0000","#0000FF","#000000"]}, "legend": null}
      },
      "layer": [
        {"data": {"name": "curves"}, "transform": [{"filter": "datum.p === 'a'"}], "mark": {"type": "line", "interpolate": "step-after", "strokeWidth": 2}},
        {"data": {"name": "marks"}, "transform": [{"filter": "datum.p === 'a' && datum.s === '+'"}], "mark": {"type": "point", "shape": "M-1,0H1M0,-1V1", "filled": false, "size": 100, "strokeWidth": 1.6, "opacity": 1}},
        {"data": {"name": "marks"}, "transform": [{"filter": "datum.p === 'a' && datum.s === 'tri'"}], "mark": {"type": "point", "shape": "triangle-up", "filled": true, "size": 70, "opacity": 1}}
      ]
    },
    {
      "spacing": 20,
      "vconcat": [
        {
          "title": {"text": "b"},
          "width": 608,
          "height": 429,
          "encoding": {
            "x": {"field": "t", "type": "quantitative", "scale": {"domain": [-4.8, 268.8], "nice": false, "zero": false}, "axis": {"values": [0,24,48,72,96,120,144,168,192,216,240,264], "title": "Time (months)", "titlePadding": 6}},
            "y": {"field": "v", "type": "quantitative", "scale": {"domain": [-0.029, 1.03], "nice": false, "zero": false}, "axis": {"values": [0,0.1,0.2,0.3,0.4,0.5,0.6,0.7,0.8,0.9,1], "format": ".1f", "title": "Cumulative incidence", "titlePadding": 11}},
            "color": {"field": "g", "type": "nominal", "scale": {"domain": ["green","red","blue","black"], "range": ["#008000","#FF0000","#0000FF","#000000"]}, "legend": null}
          },
          "layer": [
            {"data": {"name": "curves"}, "transform": [{"filter": "datum.p === 'b'"}], "mark": {"type": "line", "interpolate": "step-after", "strokeWidth": 2}},
            {"data": {"name": "marks"}, "transform": [{"filter": "datum.p === 'b' && datum.s === '+'"}], "mark": {"type": "point", "shape": "M-1,0H1M0,-1V1", "filled": false, "size": 100, "strokeWidth": 1.6, "opacity": 1}},
            {"data": {"name": "marks"}, "transform": [{"filter": "datum.p === 'b' && datum.s === 'tri'"}], "mark": {"type": "point", "shape": "triangle-up", "filled": true, "size": 70, "opacity": 1}}
          ]
        },
        {
          "title": {"text": "c"},
          "width": 608,
          "height": 428,
          "encoding": {
            "x": {"field": "t", "type": "quantitative", "scale": {"domain": [-4.8, 268.8], "nice": false, "zero": false}, "axis": {"values": [0,24,48,72,96,120,144,168,192,216,240,264], "title": "Time (months)", "titlePadding": 6}},
            "y": {"field": "v", "type": "quantitative", "scale": {"domain": [-0.028, 1.027], "nice": false, "zero": false}, "axis": {"values": [0,0.1,0.2,0.3,0.4,0.5,0.6,0.7,0.8,0.9,1], "format": ".1f", "title": "Cumulative proportion surviving", "titlePadding": 11}},
            "color": {"field": "g", "type": "nominal", "scale": {"domain": ["green","red","blue","black"], "range": ["#008000","#FF0000","#0000FF","#000000"]}, "legend": null}
          },
          "layer": [
            {"data": {"name": "curves"}, "transform": [{"filter": "datum.p === 'c'"}], "mark": {"type": "line", "interpolate": "step-after", "strokeWidth": 2}},
            {"data": {"name": "marks"}, "transform": [{"filter": "datum.p === 'c' && datum.s === '+'"}], "mark": {"type": "point", "shape": "M-1,0H1M0,-1V1", "filled": false, "size": 100, "strokeWidth": 1.6, "opacity": 1}}
          ]
        }
      ]
    }
  ]
}
